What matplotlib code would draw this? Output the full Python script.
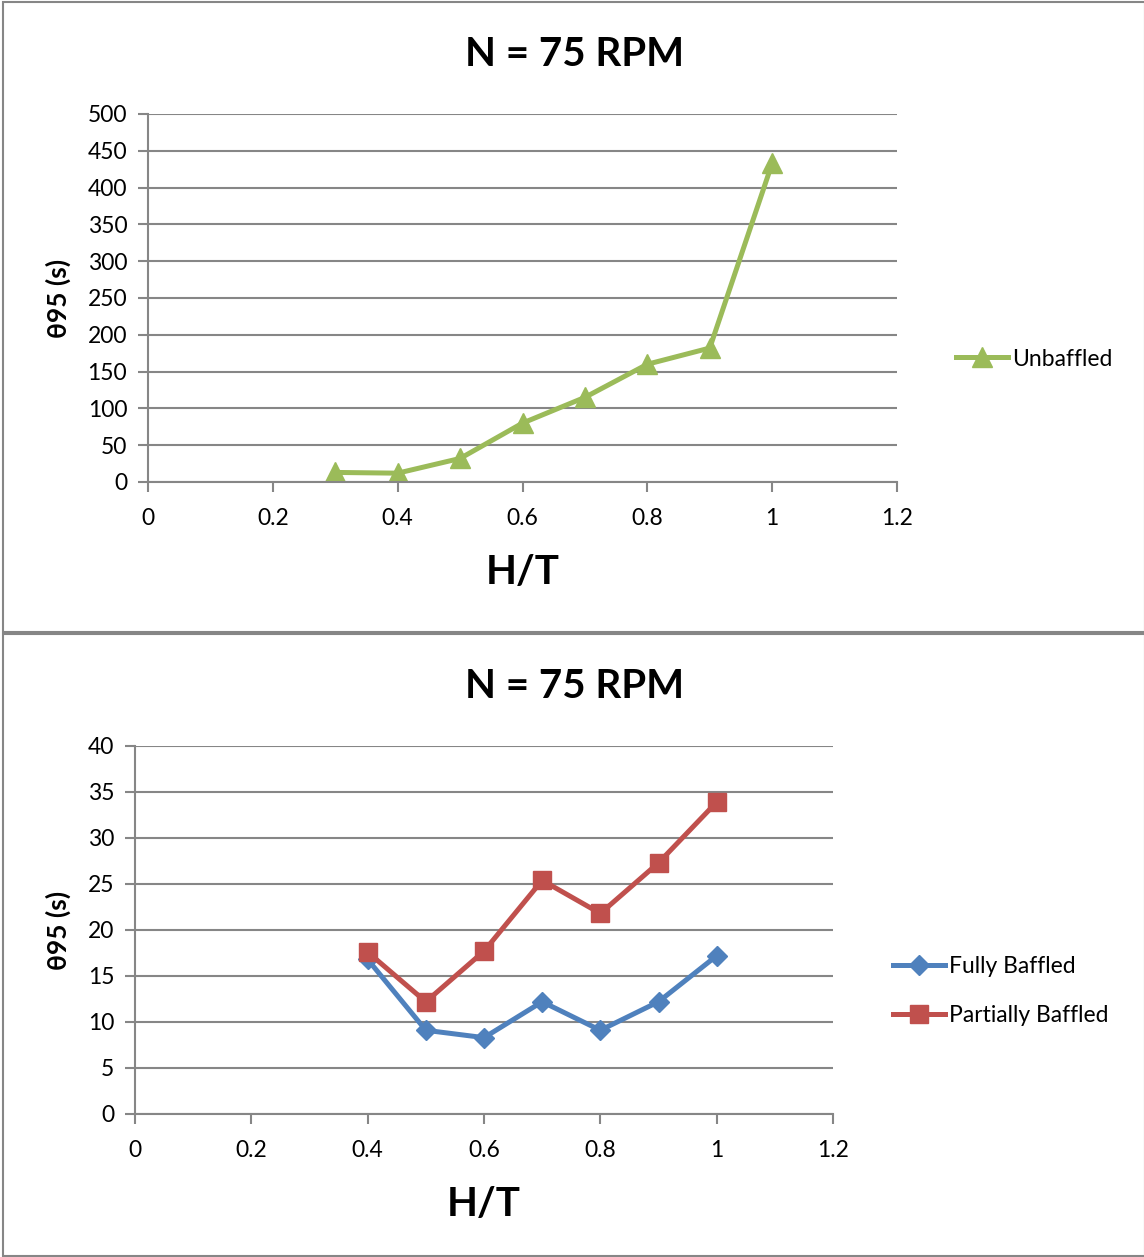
import matplotlib.pyplot as plt
from matplotlib.patches import Rectangle

plt.rcParams['font.family'] = ['Lato', 'DejaVu Sans']

# top chart data
ht_unbaffled = [0.3, 0.4, 0.5, 0.6, 0.7, 0.8, 0.9, 1.0]
theta_unbaffled = [13, 12, 32, 80, 115, 160, 182, 433]

# bottom chart data
ht_baffled = [0.4, 0.5, 0.6, 0.7, 0.8, 0.9, 1.0]
theta_fully = [16.8, 9.1, 8.3, 12.2, 9.1, 12.2, 17.2]
theta_partially = [17.6, 12.2, 17.7, 25.4, 21.8, 27.3, 33.9]

x_ticks = [0, 0.2, 0.4, 0.6, 0.8, 1, 1.2]
x_ticklabels = ['0', '0.2', '0.4', '0.6', '0.8', '1', '1.2']

W, H = 1144, 1257
fig = plt.figure(figsize=(W / 100, H / 100), dpi=100)

# panel borders
for top, bot in [(2, 632), (634, 1256)]:
    fig.patches.append(Rectangle((3 / W, 1 - bot / H), (W - 2) / W, (bot - top) / H,
                                 transform=fig.transFigure, fill=False,
                                 edgecolor='#868686', linewidth=1.5))

grid_col = '#868686'


def style_axes(ax, ymax, ystep):
    ax.set_xlim(0, 1.2)
    ax.set_ylim(0, ymax)
    ax.set_xticks(x_ticks)
    ax.set_xticklabels(x_ticklabels)
    ax.set_yticks(range(0, ymax + 1, ystep))
    ax.grid(axis='y', color=grid_col, linewidth=1.5)
    ax.set_axisbelow(True)
    for s in ['top', 'right']:
        ax.spines[s].set_visible(False)
    for s in ['left', 'bottom']:
        ax.spines[s].set_color(grid_col)
        ax.spines[s].set_linewidth(1.5)
    ax.tick_params(axis='both', length=7, width=1.5, color=grid_col, labelsize=16.5)
    ax.tick_params(axis='x', pad=12)
    ax.tick_params(axis='y', pad=8)
    ax.set_xlabel('H/T', fontsize=29, fontweight='bold', labelpad=18)
    ax.set_ylabel('θ95 (s)', fontsize=19, fontweight='bold', labelpad=12)


# top: unbaffled
ax1 = fig.add_axes([148 / W, 1 - 482 / H, (897 - 148) / W, 368 / H])
ax1.plot(ht_unbaffled, theta_unbaffled, color='#9BBB59', linewidth=3.6,
         marker='^', markersize=14, label='Unbaffled')
style_axes(ax1, 500, 50)
ax1.legend(loc='center left', bbox_to_anchor=(935 / W, 1 - 359 / H),
           bbox_transform=fig.transFigure, frameon=False, fontsize=16.5,
           handlelength=2.3, handletextpad=0.15)
fig.text(575 / W, 1 - 55 / H, 'N = 75 RPM', fontsize=29, fontweight='bold',
         ha='center', va='center')

# bottom: fully / partially baffled
ax2 = fig.add_axes([135 / W, 1 - 1114 / H, (833 - 135) / W, 368 / H])
ax2.plot(ht_baffled, theta_fully, color='#4F81BD', linewidth=3.6,
         marker='D', markersize=10, label='Fully Baffled')
ax2.plot(ht_baffled, theta_partially, color='#C0504D', linewidth=3.6,
         marker='s', markersize=13, label='Partially Baffled')
style_axes(ax2, 40, 5)
ax2.legend(loc='center left', bbox_to_anchor=(872 / W, 1 - 991 / H),
           bbox_transform=fig.transFigure, frameon=False, fontsize=16.5,
           handlelength=2.3, handletextpad=0.15, labelspacing=1.25)
fig.text(575 / W, 1 - 687 / H, 'N = 75 RPM', fontsize=29, fontweight='bold',
         ha='center', va='center')

fig.savefig('out.png', dpi=100)
